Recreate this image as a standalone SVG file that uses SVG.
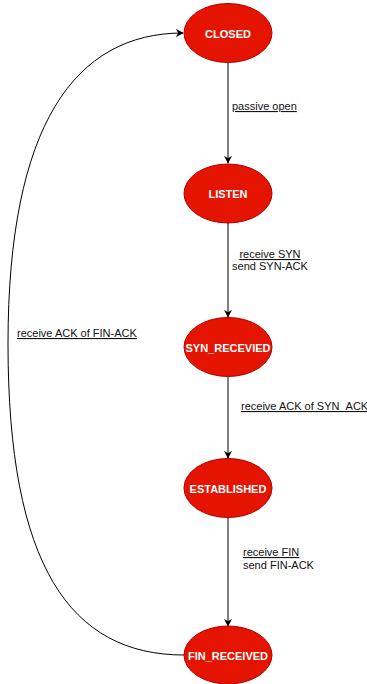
<svg xmlns="http://www.w3.org/2000/svg" width="367" height="684" viewBox="0 0 367 684">
  <style>
    .state ellipse { fill: #e51400; stroke: #b20000; stroke-width: 1; }
    .state text { font-family: "Liberation Sans", Arial, sans-serif; font-size: 11px; font-weight: bold; fill: #ffffff; text-anchor: middle; dominant-baseline: central; }
    .edge { fill: none; stroke: #000000; stroke-width: 1; marker-end: url(#arrow); }
    .lbl { font-family: "Liberation Sans", Arial, sans-serif; font-size: 11px; fill: #111111; }
    .u { text-decoration: underline; }
  </style>
  <defs>
    <marker id="arrow" viewBox="0 0 10 10" refX="9" refY="5" markerWidth="8" markerHeight="8" markerUnits="userSpaceOnUse" orient="auto">
      <path d="M0,0 L10,5 L0,10 L3,5 Z" fill="#000000"/>
    </marker>
  </defs>

  <rect width="367" height="684" fill="#ffffff"/>

  <!-- transitions -->
  <g id="connectors">
    <path class="edge" d="M228,63 L228,163"/>
    <path class="edge" d="M228,223 L228,317"/>
    <path class="edge" d="M228,377 L228,458"/>
    <path class="edge" d="M228,518 L228,626"/>
    <path class="edge" d="M184,655 C70,655 8,565 8,344 C8,125 75,33 183,33"/>
    <text class="lbl u" x="232" y="110">passive open</text>
    <text class="lbl u" x="270" y="258" text-anchor="middle">receive SYN</text>
    <text class="lbl" x="270" y="270" text-anchor="middle">send SYN-ACK</text>
    <text class="lbl u" x="241" y="410">receive ACK of SYN_ACK</text>
    <text class="lbl u" x="243" y="556">receive FIN</text>
    <text class="lbl" x="243" y="569">send FIN-ACK</text>
    <text class="lbl u" x="17" y="337">receive ACK of FIN-ACK</text>
  </g>

  <!-- states -->
  <g id="closed" class="state">
    <ellipse cx="228" cy="33" rx="44" ry="29.5"/>
    <text x="228" y="34">CLOSED</text>
  </g>
  <g id="listen" class="state">
    <ellipse cx="228" cy="193.5" rx="44" ry="29.5"/>
    <text x="228" y="194">LISTEN</text>
  </g>
  <g id="syn_received" class="state">
    <ellipse cx="228" cy="347" rx="44" ry="29.5"/>
    <text x="228" y="348">SYN_RECEVIED</text>
  </g>
  <g id="established" class="state">
    <ellipse cx="228" cy="488" rx="44" ry="29.5"/>
    <text x="228" y="489">ESTABLISHED</text>
  </g>
  <g id="fin_received" class="state">
    <ellipse cx="228" cy="655" rx="44" ry="29"/>
    <text x="228" y="656">FIN_RECEIVED</text>
  </g>
</svg>
